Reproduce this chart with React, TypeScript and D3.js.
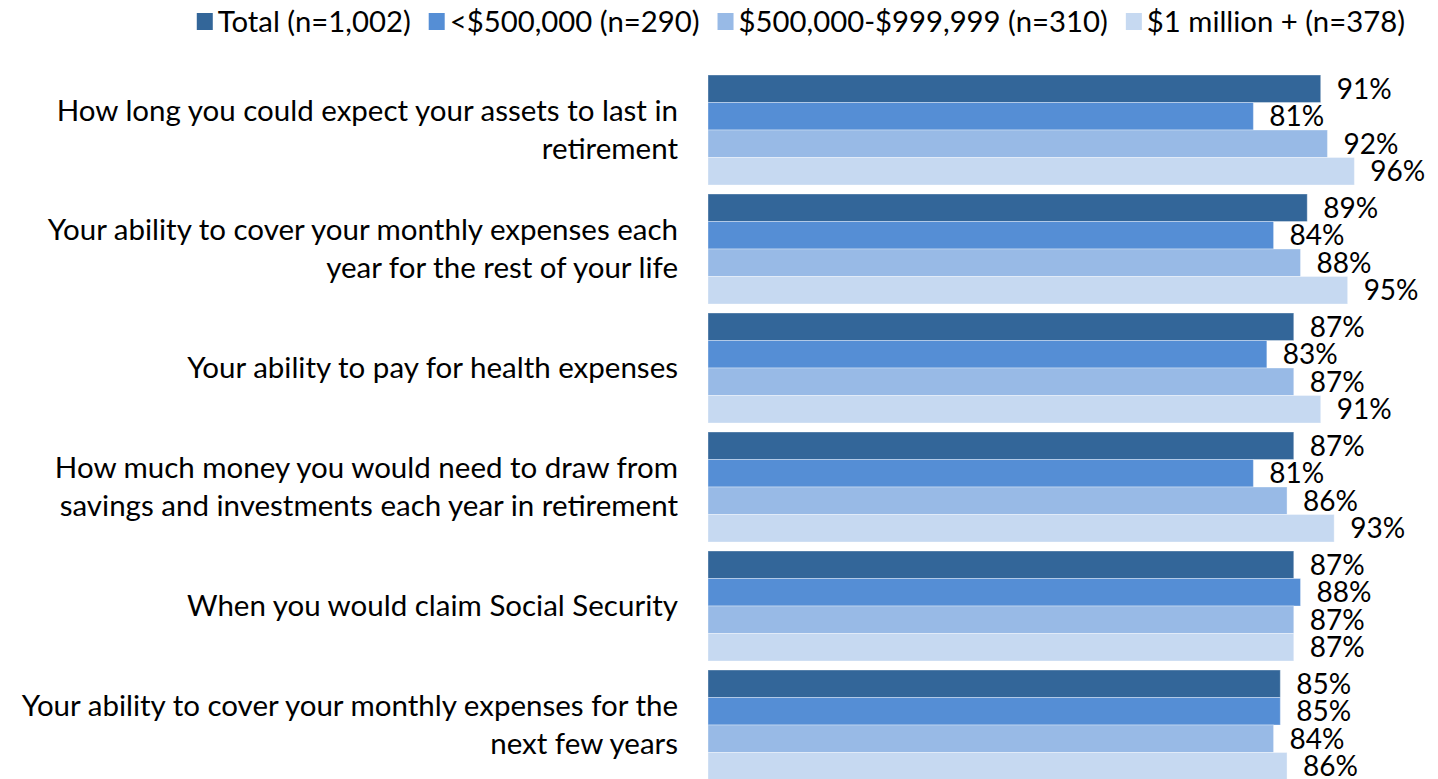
import React, { useEffect, useRef } from "react";
import * as d3 from "d3";

const categories = [
  ["How long you could expect your assets to last in", "retirement"],
  ["Your ability to cover your monthly expenses each", "year for the rest of your life"],
  ["Your ability to pay for health expenses"],
  ["How much money you would need to draw from", "savings and investments each year in retirement"],
  ["When you would claim Social Security"],
  ["Your ability to cover your monthly expenses for the", "next few years"],
];
const seriesNames = [
  "Total (n=1,002)",
  "<$500,000 (n=290)",
  "$500,000-$999,999 (n=310)",
  "$1 million + (n=378)",
];
const totalValues = [91, 89, 87, 87, 87, 85];
const under500Values = [81, 84, 83, 81, 88, 85];
const mid500Values = [92, 88, 87, 86, 87, 84];
const millionValues = [96, 95, 91, 93, 87, 86];
const colors = ["#336699", "#558ED5", "#98BAE6", "#C6D9F1"];

const W = 1438;
const H = 779;
const FONT = "Lato, 'Noto Sans', sans-serif";
const FS_LABEL = 29.5;
const FS_LEGEND = 29.3;
const FS_VALUE = 28;

export default function App() {
  const ref = useRef<SVGSVGElement>(null);
  useEffect(() => {
    const svg = d3.select(ref.current);
    svg.selectAll("*").remove();
    const series = [totalValues, under500Values, mid500Values, millionValues];
    const catIdx = categories.map((_, i) => i);

    const x = d3.scaleLinear().domain([0, 100]).range([708, 708 + 673.3]);
    const y = d3
      .scaleBand<number>()
      .domain(catIdx)
      .range([70.5, 70.5 + 6 * 119])
      .paddingInner(9 / 119)
      .paddingOuter(4.5 / 119);
    const ys = d3.scaleBand<number>().domain([0, 1, 2, 3]).range([0, y.bandwidth()]);

    const g = svg.append("g");
    catIdx.forEach((ci) => {
      const gg = g.append("g").attr("transform", `translate(0,${y(ci)})`);
      series.forEach((vals, si) => {
        gg.append("rect")
          .attr("x", x(0))
          .attr("y", ys(si)!)
          .attr("width", x(vals[ci]) - x(0))
          .attr("height", ys.bandwidth())
          .attr("fill", colors[si])
          .attr("stroke", "#ffffff")
          .attr("stroke-opacity", 0.35)
          .attr("stroke-width", 1);
      });
      series.forEach((vals, si) => {
        gg.append("text")
          .attr("x", x(vals[ci]) + 16)
          .attr("y", ys(si)! + ys.bandwidth() / 2)
          .attr("dy", "0.35em")
          .attr("font-family", FONT)
          .attr("font-size", FS_VALUE)
          .attr("fill", "#000")
          .text(`${vals[ci]}%`);
      });
    });

    // category labels
    catIdx.forEach((ci) => {
      const lines = categories[ci];
      const cy = y(ci)! + y.bandwidth() / 2;
      const lh = 38;
      lines.forEach((ln, li) => {
        svg.append("text")
          .attr("x", 678)
          .attr("y", cy + (li - (lines.length - 1) / 2) * lh)
          .attr("dy", "0.35em")
          .attr("text-anchor", "end")
          .attr("font-family", FONT)
          .attr("font-size", FS_LABEL)
          .attr("fill", "#000")
          .text(ln);
      });
    });

    // legend
    const lg = svg.append("g");
    let cx = 0;
    const sq = 16;
    const gap = 18;
    seriesNames.forEach((name, si) => {
      const e = lg.append("g").attr("transform", `translate(${cx},0)`);
      e.append("rect").attr("x", 0).attr("y", -sq / 2 - 1).attr("width", sq).attr("height", sq + 1).attr("fill", colors[si]);
      const t = e.append("text")
        .attr("x", sq + 5)
        .attr("y", 0)
        .attr("dy", "0.35em")
        .attr("font-family", FONT)
        .attr("font-size", FS_LEGEND)
        .attr("fill", "#000")
        .text(name);
      const w = (t.node() as SVGTextElement).getComputedTextLength();
      cx += sq + 5 + w + gap;
    });
    const totalW = cx - gap;
    lg.attr("transform", `translate(${1405 - totalW},22)`);
  }, []);
  return (
    <svg
      ref={ref}
      width={W}
      height={H}
      style={{ position: "absolute", left: 0, top: 0, background: "#fff" }}
    />
  );
}
